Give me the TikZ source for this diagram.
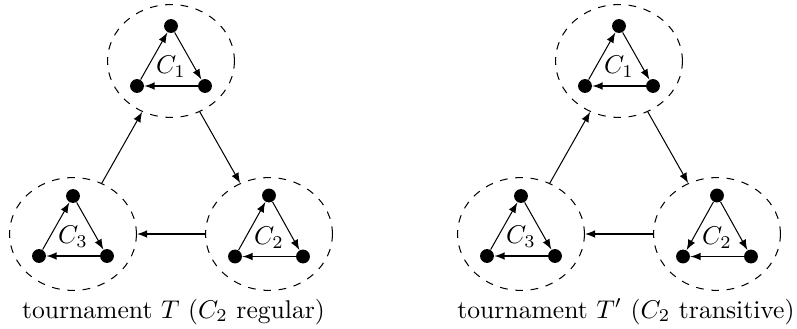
\documentclass[tikz,border=0pt]{standalone}
\usetikzlibrary{shapes.geometric}
\begin{document}
\begin{tikzpicture}[x=0.39pt,y=-0.39pt,
  clus/.style={draw,dashed,ellipse,minimum width=49.5pt,minimum height=44pt,inner sep=0pt},
  vtx/.style={circle,fill,inner sep=0pt,minimum size=5.4pt},
  arc/.style={-latex},
  clab/.style={inner sep=0pt}]
\useasboundingbox (0,0) rectangle (797,329);

% ---------- left tournament T ----------
\node[clus] (A1) at (171,61) {};
\node[clus] (A2) at (269,234) {};
\node[clus] (A3) at (73,234) {};

\node[vtx] (a1t) at (171,26) {};
\node[vtx] (a1l) at (137,86) {};
\node[vtx] (a1r) at (205,86) {};
\node[clab] (a1c) at (171,67) {$C_1$};

\node[vtx] (a2t) at (269,195.5) {};
\node[vtx] (a2l) at (235,256.5) {};
\node[vtx] (a2r) at (303,256.5) {};
\node[clab] (a2c) at (269,238) {$C_2$};

\node[vtx] (a3t) at (73,196) {};
\node[vtx] (a3l) at (39,256) {};
\node[vtx] (a3r) at (107,256) {};
\node[clab] (a3c) at (73,237) {$C_3$};

\draw[arc] (a1l) -- (a1t);
\draw[arc] (a1t) -- (a1r);
\draw[arc] (a1r) -- (a1l);
\draw[arc] (a2l) -- (a2t);
\draw[arc] (a2t) -- (a2r);
\draw[arc] (a2r) -- (a2l);
\draw[arc] (a3l) -- (a3t);
\draw[arc] (a3t) -- (a3r);
\draw[arc] (a3r) -- (a3l);

\draw[arc] (A3) -- (A1);
\draw[arc] (A1) -- (A2);
\draw[arc] (A2) -- (A3);

\node[anchor=base] (lt) at (173.5,318) {tournament $T$ ($C_2$ regular)};

% ---------- right tournament T' ----------
\node[clus] (B1) at (619,61) {};
\node[clus] (B2) at (717,234) {};
\node[clus] (B3) at (521,234) {};

\node[vtx] (b1t) at (619,26) {};
\node[vtx] (b1l) at (585,86) {};
\node[vtx] (b1r) at (653,86) {};
\node[clab] (b1c) at (619,67) {$C_1$};

\node[vtx] (b2t) at (717,195.5) {};
\node[vtx] (b2l) at (683,256.5) {};
\node[vtx] (b2r) at (751,256.5) {};
\node[clab] (b2c) at (717,238) {$C_2$};

\node[vtx] (b3t) at (521,196) {};
\node[vtx] (b3l) at (487,256) {};
\node[vtx] (b3r) at (555,256) {};
\node[clab] (b3c) at (521,237) {$C_3$};

\draw[arc] (b1l) -- (b1t);
\draw[arc] (b1t) -- (b1r);
\draw[arc] (b1r) -- (b1l);
\draw[arc] (b2t) -- (b2l);
\draw[arc] (b2t) -- (b2r);
\draw[arc] (b2r) -- (b2l);
\draw[arc] (b3l) -- (b3t);
\draw[arc] (b3t) -- (b3r);
\draw[arc] (b3r) -- (b3l);

\draw[arc] (B3) -- (B1);
\draw[arc] (B1) -- (B2);
\draw[arc] (B2) -- (B3);

\node[anchor=base] (rt) at (626,318) {tournament $T'$ ($C_2$ transitive)};
\end{tikzpicture}
\end{document}
